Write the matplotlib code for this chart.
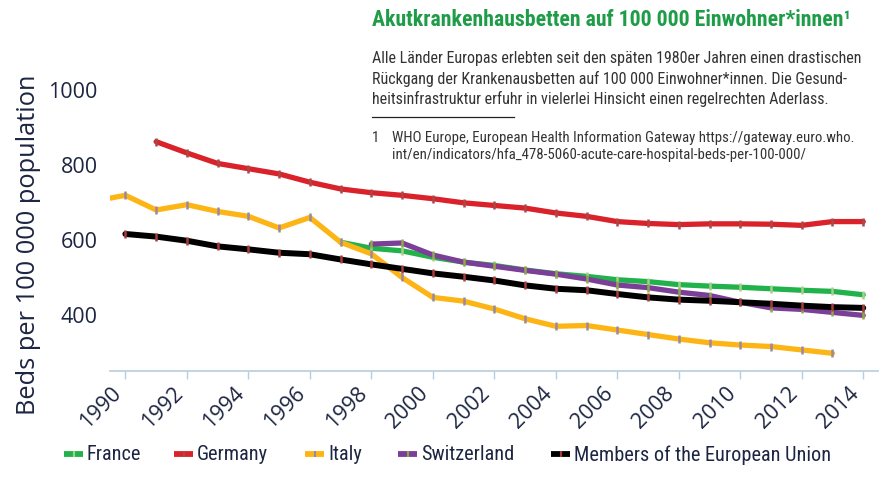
import matplotlib
matplotlib.use("Agg")
import matplotlib.pyplot as plt
from matplotlib.lines import Line2D

# ---------------- data ----------------
years_france = list(range(1997, 2015))
france = [591, 575, 568, 551, 538, 529, 517, 507, 500, 491, 486, 478, 474, 471, 467, 463, 460, 451]

years_germany = list(range(1991, 2015))
germany = [859, 829, 801, 787, 773, 751, 733, 723, 716, 707, 696, 689, 682, 669, 660, 646,
           641, 638, 640, 640, 639, 636, 646, 646]

years_italy = list(range(1989, 2014))
italy = [701, 716, 677, 691, 673, 660, 629, 657, 591, 560, 497, 444, 434, 413, 387, 367,
         369, 357, 345, 333, 323, 317, 313, 304, 295]

years_switzerland = list(range(1998, 2015))
switzerland = [586, 589, 557, 538, 527, 516, 506, 493, 477, 470, 458, 449, 431, 416, 412, 404, 396]

years_eu = list(range(1990, 2015))
eu = [613, 606, 595, 580, 572, 563, 559, 545, 532, 520, 508, 499, 489, 476, 467, 463, 453,
      444, 438, 435, 431, 427, 422, 418, 416]

series_names = ["France", "Germany", "Italy", "Switzerland", "Members of the European Union"]
x_ticks = list(range(1990, 2015, 2))
y_ticks = [400, 600, 800, 1000]

title = "Akutkrankenhausbetten auf 100 000 Einwohner*innen\u00b9"
body_lines = [
    "Alle Länder Europas erlebten seit den späten 1980er Jahren einen drastischen",
    "Rückgang der Krankenausbetten auf 100 000 Einwohner*innen. Die Gesund-",
    "heitsinfrastruktur erfuhr in vielerlei Hinsicht einen regelrechten Aderlass.",
]
foot_lines = [
    "WHO Europe, European Health Information Gateway https://gateway.euro.who.",
    "int/en/indicators/hfa_478-5060-acute-care-hospital-beds-per-100-000/",
]

# ---------------- style ----------------
W, H = 894, 485
line_colors = ["#22b24c", "#d9222a", "#fdb515", "#7b3f98", "#000000"]
marker_colors = ["#a6cf8b", "#a8484a", "#9a8a9e", "#8fa84a", "#a83c3c"]
navy = "#1c2541"
axis_col = "#b8cce0"
narrow = ["Roboto Condensed", "Liberation Sans Narrow", "DejaVu Sans Condensed", "Lato", "DejaVu Sans"]
tickfont = ["Open Sans", "DejaVu Sans"]

fig = plt.figure(figsize=(W / 100, H / 100), dpi=100)
fig.patch.set_facecolor("white")
renderer = fig.canvas.get_renderer()

def fx(px):
    return px / W

def fy(py):
    return 1 - py / H

def fit_size(txt, target_px):
    w = txt.get_window_extent(renderer=renderer).width
    return txt.get_fontsize() * target_px / w

ax = fig.add_axes([fx(110), fy(372.3), fx(878) - fx(110), fy(71) - fy(372.3)])
ax.set_facecolor("none")

all_x = [years_france, years_germany, years_italy, years_switzerland, years_eu]
all_y = [france, germany, italy, switzerland, eu]
widths = [3.8, 3.8, 3.8, 3.8, 4.3]
for xs, ys, lc, mc, lw, name in zip(all_x, all_y, line_colors, marker_colors, widths, series_names):
    ax.plot(xs, ys, color=lc, lw=lw, solid_capstyle="round", solid_joinstyle="round",
            marker="|", markersize=5.5, markeredgewidth=1.8, markeredgecolor=mc,
            label=name, zorder=3)

ax.set_xlim(1989.5, 2014.48)
ax.set_ylim(247, 1050)
for s in ["top", "right", "left"]:
    ax.spines[s].set_visible(False)
ax.spines["bottom"].set_color(axis_col)
ax.spines["bottom"].set_linewidth(1.2)

ax.set_xticks(x_ticks)
ax.set_xticklabels([str(t) for t in x_ticks], fontsize=15.5, color=navy, family=tickfont)
ax.tick_params(axis="x", length=5.5, width=1, color=axis_col, pad=2, labelrotation=45)
for lbl in ax.get_xticklabels():
    lbl.set_rotation(45)
    lbl.set_horizontalalignment("right")
    lbl.set_verticalalignment("top")
    lbl.set_rotation_mode("default")
ax.set_yticks(y_ticks)
ax.set_yticklabels([str(t) for t in y_ticks], fontsize=15.5, color=navy, family=tickfont)
ax.tick_params(axis="y", length=0, pad=9)

fig.text(fx(29), fy(245), "Beds per 100 000 population", rotation=90, ha="center", va="center",
         fontsize=18.3, color=navy, family=tickfont)

# ---------------- header text ----------------
t = fig.text(fx(372), fy(20), title, ha="left", va="center", fontsize=14, fontweight="bold",
             color="#1e9c48", family=narrow)
t.set_fontsize(fit_size(t, 481))

body = []
for i, ln in enumerate(body_lines):
    body.append(fig.text(fx(372), fy(58 + 20.7 * i), ln, ha="left", va="center", fontsize=11,
                         color="#333333", family=narrow))
bs = fit_size(body[0], 488)
for b in body:
    b.set_fontsize(bs)

fig.add_artist(Line2D([fx(372), fx(514)], [fy(118), fy(118)], transform=fig.transFigure,
                      color="#222222", lw=0.9))
n1 = fig.text(fx(372), fy(138), "1", ha="left", va="center", fontsize=10, color="#333333", family=narrow)
foot = []
for i, ln in enumerate(foot_lines):
    foot.append(fig.text(fx(392), fy(138 + 17.5 * i), ln, ha="left", va="center", fontsize=10,
                         color="#333333", family=narrow))
fs = fit_size(foot[0], 459)
for f in foot:
    f.set_fontsize(fs)
n1.set_fontsize(fs)

# ---------------- legend ----------------
handle_x = [64, 174, 305, 398, 551]
leg_y = 455
labels = []
for hx, name, lc, mc in zip(handle_x, series_names, line_colors, marker_colors):
    fig.add_artist(Line2D([fx(hx), fx(hx + 19)], [fy(leg_y), fy(leg_y)], transform=fig.transFigure,
                          color=lc, lw=4.2, solid_capstyle="butt"))
    fig.add_artist(Line2D([fx(hx + 9.5)], [fy(leg_y)], transform=fig.transFigure,
                          marker="|", markersize=4, markeredgewidth=1.5, markeredgecolor=mc,
                          linestyle="none"))
    labels.append(fig.text(fx(hx + 23), fy(leg_y), name, ha="left", va="center", fontsize=13,
                           color=navy, family=narrow))
ls = fit_size(labels[-1], 255)
for lb in labels:
    lb.set_fontsize(ls)

fig.savefig("out.png", dpi=100, facecolor="white")
